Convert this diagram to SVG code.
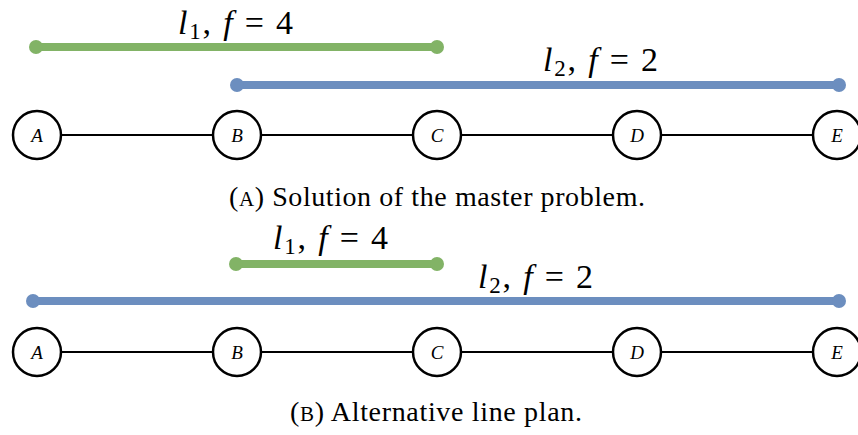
<svg xmlns="http://www.w3.org/2000/svg" width="858" height="435" viewBox="0 0 858 435">
<style>
.node circle{fill:#fff;stroke:#000;stroke-width:2.5}
.node text{font-family:"Liberation Serif",serif;font-style:italic;font-size:19px;text-anchor:middle}
.edge{stroke:#000;stroke-width:2}
.green{stroke:#82b366;stroke-width:8;stroke-linecap:round}
.blue{stroke:#6c8ebf;stroke-width:8;stroke-linecap:round}
.gdot{fill:#82b366}
.bdot{fill:#6c8ebf}
.math{font-family:"Liberation Serif",serif;font-size:34px}
.it{font-style:italic}
.cap{font-family:"Liberation Serif",serif;font-size:28px}
</style>
<g id="connectors">
<line class="edge" x1="37" y1="135" x2="837" y2="135"/>
<line class="edge" x1="37" y1="352" x2="837" y2="352"/>
</g>
<g id="lines-a">
<line class="green" x1="36" y1="47" x2="437" y2="47"/>
<circle class="gdot" cx="36" cy="47" r="7"/><circle class="gdot" cx="437" cy="47" r="7"/>
<line class="blue" x1="237" y1="85" x2="839" y2="85"/>
<circle class="bdot" cx="237" cy="85" r="7"/><circle class="bdot" cx="839" cy="85" r="7"/>
<text class="math" x="178" y="34" textLength="115" lengthAdjust="spacing"><tspan class="it">l</tspan><tspan font-size="23" dy="5">1</tspan><tspan dy="-5">, </tspan><tspan class="it">f</tspan> = 4</text>
<text class="math" x="543" y="71" textLength="115" lengthAdjust="spacing"><tspan class="it">l</tspan><tspan font-size="23" dy="5">2</tspan><tspan dy="-5">, </tspan><tspan class="it">f</tspan> = 2</text>
</g>
<g id="A1" class="node"><circle cx="37" cy="135" r="24"/><text x="37" y="142">A</text></g>
<g id="B1" class="node"><circle cx="237" cy="135" r="24"/><text x="237" y="142">B</text></g>
<g id="C1" class="node"><circle cx="437" cy="135" r="24"/><text x="437" y="142">C</text></g>
<g id="D1" class="node"><circle cx="637" cy="135" r="24"/><text x="637" y="142">D</text></g>
<g id="E1" class="node"><circle cx="837" cy="135" r="24"/><text x="837" y="142">E</text></g>
<text class="cap" x="229" y="206" textLength="416" lengthAdjust="spacing">(<tspan font-size="21">A</tspan>) Solution of the master problem.</text>
<g id="lines-b">
<line class="green" x1="236" y1="264" x2="437" y2="264"/>
<circle class="gdot" cx="236" cy="264" r="7"/><circle class="gdot" cx="437" cy="264" r="7"/>
<line class="blue" x1="33" y1="301" x2="839" y2="301"/>
<circle class="bdot" cx="33" cy="301" r="7"/><circle class="bdot" cx="839" cy="301" r="7"/>
<text class="math" x="273" y="249" textLength="115" lengthAdjust="spacing"><tspan class="it">l</tspan><tspan font-size="23" dy="5">1</tspan><tspan dy="-5">, </tspan><tspan class="it">f</tspan> = 4</text>
<text class="math" x="478" y="288" textLength="115" lengthAdjust="spacing"><tspan class="it">l</tspan><tspan font-size="23" dy="5">2</tspan><tspan dy="-5">, </tspan><tspan class="it">f</tspan> = 2</text>
</g>
<g id="A2" class="node"><circle cx="37" cy="352" r="24"/><text x="37" y="359">A</text></g>
<g id="B2" class="node"><circle cx="237" cy="352" r="24"/><text x="237" y="359">B</text></g>
<g id="C2" class="node"><circle cx="437" cy="352" r="24"/><text x="437" y="359">C</text></g>
<g id="D2" class="node"><circle cx="637" cy="352" r="24"/><text x="637" y="359">D</text></g>
<g id="E2" class="node"><circle cx="837" cy="352" r="24"/><text x="837" y="359">E</text></g>
<text class="cap" x="290" y="421" textLength="292" lengthAdjust="spacing">(<tspan font-size="21">B</tspan>) Alternative line plan.</text>
</svg>
